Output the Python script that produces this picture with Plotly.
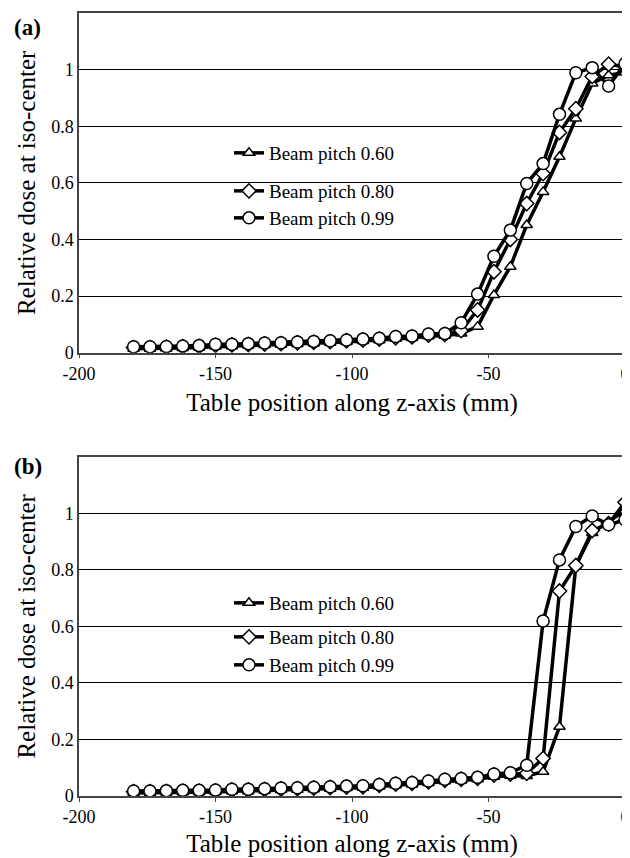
import plotly.graph_objects as go

# ---- data ----
z_pos = [-180, -174, -168, -162, -156, -150, -144, -138, -132, -126, -120, -114, -108, -102, -96,
         -90, -84, -78, -72, -66, -60, -54, -48, -42, -36, -30, -24, -18, -12, -6, 0]

series_names = ["Beam pitch 0.60", "Beam pitch 0.80", "Beam pitch 0.99"]

a_p060 = [0.014, 0.014, 0.015, 0.017, 0.018, 0.022, 0.023, 0.025, 0.027, 0.028, 0.031, 0.033, 0.035, 0.038, 0.041,
          0.044, 0.049, 0.052, 0.058, 0.060, 0.068, 0.092, 0.204, 0.304, 0.451, 0.568, 0.692, 0.827, 0.951, 0.980, 0.990]
a_p080 = [0.018, 0.018, 0.019, 0.021, 0.022, 0.026, 0.027, 0.029, 0.031, 0.032, 0.035, 0.037, 0.039, 0.042, 0.045,
          0.048, 0.053, 0.056, 0.062, 0.064, 0.078, 0.151, 0.286, 0.400, 0.527, 0.633, 0.778, 0.862, 0.976, 1.019, 1.010]
a_p099 = [0.021, 0.021, 0.022, 0.024, 0.025, 0.030, 0.030, 0.032, 0.034, 0.035, 0.038, 0.040, 0.042, 0.045, 0.048,
          0.051, 0.057, 0.059, 0.066, 0.068, 0.106, 0.207, 0.341, 0.433, 0.598, 0.668, 0.842, 0.989, 1.007, 0.942, 1.021]

b_p060 = [0.011, 0.011, 0.012, 0.013, 0.013, 0.014, 0.017, 0.017, 0.019, 0.021, 0.022, 0.024, 0.026, 0.028, 0.029,
          0.034, 0.038, 0.041, 0.046, 0.052, 0.055, 0.059, 0.068, 0.072, 0.071, 0.086, 0.245, 0.815, 0.930, 0.970, 1.010]
b_p080 = [0.015, 0.015, 0.016, 0.017, 0.017, 0.018, 0.021, 0.021, 0.023, 0.025, 0.026, 0.028, 0.030, 0.032, 0.033,
          0.038, 0.042, 0.045, 0.050, 0.056, 0.059, 0.063, 0.074, 0.078, 0.080, 0.133, 0.725, 0.815, 0.939, 0.963, 1.039]
b_p099 = [0.018, 0.018, 0.019, 0.020, 0.020, 0.021, 0.024, 0.024, 0.026, 0.028, 0.029, 0.031, 0.033, 0.035, 0.036,
          0.041, 0.045, 0.048, 0.053, 0.059, 0.062, 0.066, 0.078, 0.082, 0.109, 0.619, 0.835, 0.953, 0.990, 0.959, 0.977]

y_tickvals = [0, 0.2, 0.4, 0.6, 0.8, 1.0, 1.2]
y_ticktext = ["0", "0.2", "0.4", "0.6", "0.8", "1", ""]
x_tickvals = [-200, -150, -100, -50, 0]
x_ticktext = ["-200", "-150", "-100", "-50", "0"]

x_title = "Table position along z-axis (mm)"
y_title = "Relative dose at iso-center"
panel_labels = ["(a)", "(b)"]

FONT = "Liberation Serif, Times New Roman, serif"
symbols = ["triangle-up", "diamond", "circle"]
msizes = [10, 11, 12]

fig = go.Figure()

panels = [([a_p060, a_p080, a_p099], "x", "y", ["legend", "legend2", "legend3"]),
          ([b_p060, b_p080, b_p099], "x2", "y2", ["legend4", "legend5", "legend6"])]

for series, xa, ya, legs in panels:
    for name, vals, sym, ms, lg in zip(series_names, series, symbols, msizes, legs):
        fig.add_trace(go.Scatter(
            x=z_pos, y=vals, mode="lines+markers", name=name,
            xaxis=xa, yaxis=ya, legend=lg, showlegend=True,
            line=dict(color="black", width=3.5),
            marker=dict(symbol=sym, size=ms, color="white",
                        line=dict(color="black", width=1.5)),
        ))

# layout geometry (pixels); the page body adds an 8px offset, compensated here
W, H = 622, 850
ml, mr, mt, mb = 71, 5, 5, 62
ph = H - mt - mb
pw = W - ml - mr
dom_a = [(796 - 352.7) / ph, 1.0]
dom_b = [0.0, (796 - 456.7) / ph]

def xaxis_cfg(anchor):
    return dict(range=[-200, 0], tickvals=x_tickvals, ticktext=x_ticktext,
                showgrid=False, zeroline=False, showline=True, linecolor="#444", linewidth=1.5,
                mirror=True, ticks="outside", ticklen=4, tickcolor="#444", automargin=False,
                tickfont=dict(family=FONT, size=18, color="black"),
                title=dict(text=x_title, font=dict(family=FONT, size=25, color="black"), standoff=10),
                anchor=anchor)

def yaxis_cfg(dom, anchor):
    return dict(range=[0, 1.2], tickvals=y_tickvals, ticktext=y_ticktext, domain=dom,
                showgrid=True, gridcolor="black", gridwidth=1, zeroline=False,
                showline=True, linecolor="#444", linewidth=1.5, mirror=True, automargin=False,
                tickfont=dict(family=FONT, size=18, color="black"), ticks="",
                title=dict(text=y_title, font=dict(family=FONT, size=25, color="black"), standoff=8),
                anchor=anchor)

leg_common = dict(xanchor="left", yanchor="middle", bgcolor="rgba(0,0,0,0)",
                  font=dict(family=FONT, size=19, color="black"), itemwidth=30,
                  tracegroupgap=0, visible=True)

def py2paper(page_y):
    return (796 - page_y) / ph

def px2paper(page_x):
    return (page_x - 79) / pw

legends = {}
for key, ypx in zip(["legend", "legend2", "legend3", "legend4", "legend5", "legend6"],
                    [153, 191, 218, 603, 637, 665]):
    legends[key] = dict(leg_common, x=px2paper(229), y=py2paper(ypx))

fig.update_layout(
    width=W, height=H,
    margin=dict(l=ml, r=mr, t=mt, b=mb, autoexpand=False),
    paper_bgcolor="white", plot_bgcolor="white",
    showlegend=True,
    xaxis=xaxis_cfg("y"), yaxis=yaxis_cfg(dom_a, "x"),
    xaxis2=xaxis_cfg("y2"), yaxis2=yaxis_cfg(dom_b, "x2"),
    font=dict(family=FONT, color="black"),
    **legends,
)

for lbl, ypx in zip(panel_labels, [27, 466]):
    fig.add_annotation(text="<b>" + lbl + "</b>", xref="paper", yref="paper",
                       x=px2paper(12), y=py2paper(ypx), xanchor="left", yanchor="middle",
                       showarrow=False, font=dict(family=FONT, size=23, color="black"))

fig.write_html("out.html")
